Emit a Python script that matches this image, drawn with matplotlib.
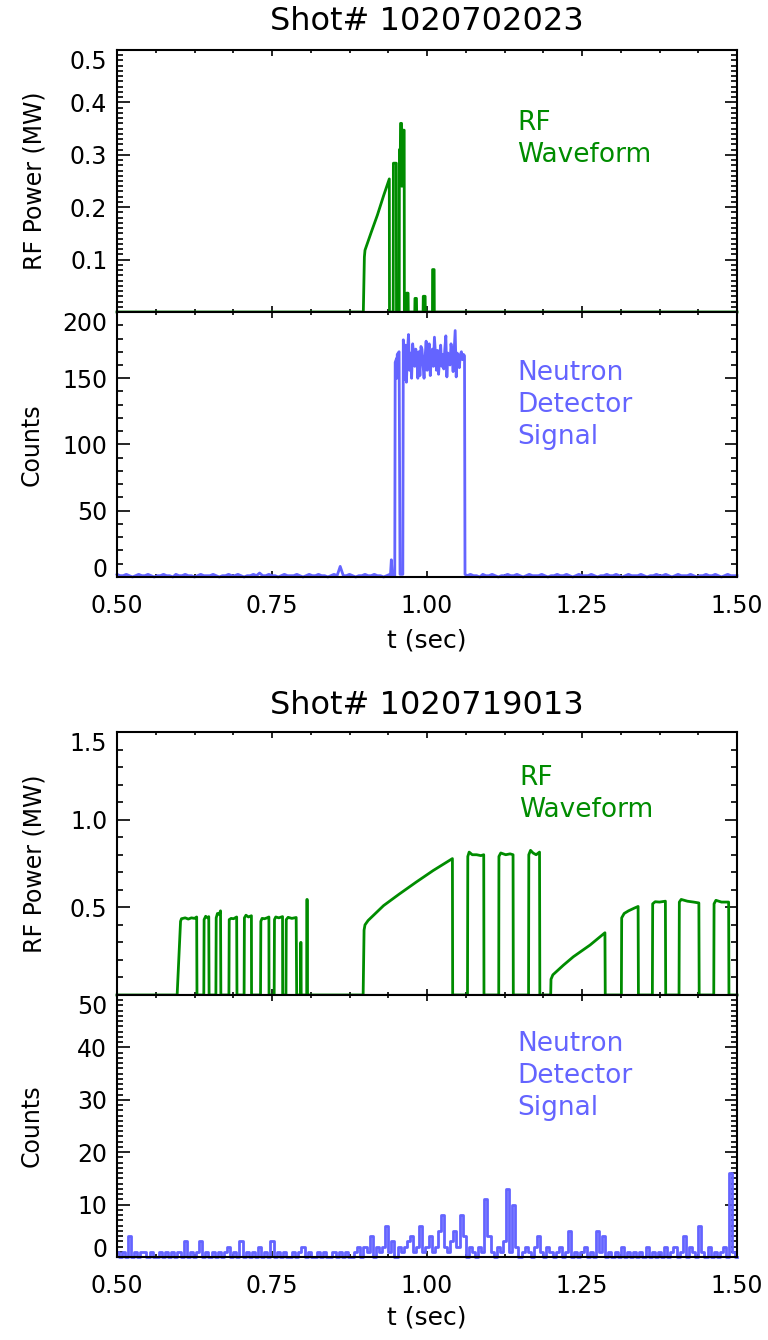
import numpy as np
import matplotlib.pyplot as plt
from matplotlib.ticker import MultipleLocator

plt.rcParams['font.family'] = 'DejaVu Sans'

GREEN = '#008c00'
BLUE = '#6464ff'

shots = ["1020702023", "1020719013"]

# shot 1020702023, RF power (MW)
rf1_t = [0.5, 0.8973, 0.899, 0.900, 0.91, 0.92, 0.93, 0.9392, 0.9395,
         0.9455, 0.9458, 0.9505, 0.9508, 0.9552, 0.9555, 0.957, 0.9573,
         0.959, 0.9593, 0.9598, 0.960, 0.9632, 0.9635, 0.9668, 0.967,
         0.9695, 0.9698, 0.9803, 0.9806, 0.983, 0.9833, 0.9937, 0.994,
         0.997, 0.9973, 1.0088, 1.009, 1.0115, 1.0118, 1.5]
rf1_p = [0, 0, 0.105, 0.118, 0.152, 0.185, 0.222, 0.254, 0,
         0, 0.284, 0.284, 0, 0, 0.31, 0.31, 0.36,
         0.36, 0.24, 0.24, 0.347, 0.347, 0, 0, 0.036,
         0.036, 0, 0, 0.026, 0.026, 0, 0, 0.03,
         0.03, 0, 0, 0.081, 0.081, 0, 0]

# shot 1020702023, neutron counts
n1_pre = [2, 1, 1, 2, 1, 0, 1, 2, 1, 1, 2, 1, 0, 1, 1, 2, 1, 1, 0, 2,
          1, 1, 2, 1, 1, 0, 1, 2, 1, 1, 1, 2, 1, 0, 1, 1, 2, 1, 1, 2,
          1, 0, 1, 1, 2, 1, 3, 1, 1, 2, 1, 1, 0, 1, 2, 1, 1, 1, 2, 1,
          0, 1, 2, 1, 1, 2, 1, 1, 0, 1, 2, 1, 8, 1, 1, 2, 1, 0, 1, 1,
          2, 1, 1, 2, 1, 1, 0, 1, 2]
n1_burst_t = [0.941, 0.9425, 0.944, 0.948, 0.9487, 0.951, 0.9515, 0.952,
              0.955, 0.9565, 0.961]
n1_burst = [1, 13, 1, 1, 162, 165, 150, 168, 170, 2, 2]
n1_plateau = [179, 149, 175, 147, 170, 183, 156, 169, 150, 176, 168, 159,
              172, 166, 150, 170, 152, 174, 172, 160, 150, 166, 178, 156,
              169, 176, 152, 166, 172, 159, 181, 169, 156, 171, 153, 166,
              175, 159, 168, 157, 172, 182, 151, 169, 166, 160, 176, 168,
              155, 171, 186, 151, 169, 166, 158, 168, 170, 164, 168, 167]
n1_post = [1, 2, 1, 1, 0, 2, 1, 1, 2, 1, 0, 1, 1, 2, 1, 1, 2, 1, 0, 1,
           2, 1, 1, 1, 2, 1, 0, 1, 1, 2, 1, 1, 2, 1, 0, 1, 2, 1, 1, 1,
           2, 1, 0, 1, 1, 2, 1, 1, 2, 1, 0, 1, 2, 1, 1, 1, 2, 1, 0, 1,
           1, 2, 1, 1, 2, 1, 0, 1, 2, 1, 1, 1, 2, 1, 0, 1, 1, 2, 1, 1,
           2, 1, 0, 1, 2, 1, 1, 1]

# shot 1020719013, RF power (MW)
rf2_t = [0.5,
         0.597, 0.6025, 0.604, 0.61, 0.615, 0.62, 0.625, 0.6285, 0.629,
         0.640, 0.6405, 0.643, 0.646, 0.648, 0.6485,
         0.6595, 0.660, 0.662, 0.665, 0.667, 0.6675,
         0.6805, 0.681, 0.684, 0.688, 0.693, 0.6935,
         0.705, 0.7055, 0.708, 0.712, 0.7168, 0.717,
         0.7315, 0.732, 0.734, 0.738, 0.742, 0.745, 0.7452,
         0.7535, 0.754, 0.756, 0.761, 0.767, 0.7672,
         0.7725, 0.773, 0.776, 0.782, 0.789, 0.7898,
         0.7960, 0.7963, 0.7968, 0.7971,
         0.8060, 0.8063, 0.8068, 0.8071,
         0.897, 0.8985, 0.900, 0.905, 0.93, 0.955, 0.983, 1.01, 1.041, 1.0414,
         1.0653, 1.0658, 1.068, 1.073, 1.08, 1.087, 1.0915, 1.0919,
         1.1157, 1.116, 1.119, 1.127, 1.134, 1.1388, 1.1392,
         1.1638, 1.1642, 1.167, 1.171, 1.176, 1.1815, 1.182,
         1.1995, 1.2, 1.203, 1.22, 1.236, 1.263, 1.287, 1.2875,
         1.3135, 1.314, 1.318, 1.325, 1.334, 1.3405, 1.341,
         1.3635, 1.364, 1.368, 1.375, 1.3845, 1.385,
         1.4065, 1.407, 1.41, 1.42, 1.43, 1.4385, 1.439,
         1.4625, 1.463, 1.466, 1.475, 1.4865, 1.487,
         1.5]
rf2_p = [0,
         0, 0.42, 0.435, 0.44, 0.433, 0.44, 0.437, 0.445, 0,
         0, 0.43, 0.449, 0.44, 0.447, 0,
         0, 0.44, 0.465, 0.46, 0.48, 0,
         0, 0.43, 0.437, 0.435, 0.445, 0,
         0, 0.44, 0.455, 0.445, 0.452, 0,
         0, 0.42, 0.437, 0.435, 0.44, 0.445, 0,
         0, 0.43, 0.445, 0.44, 0.447, 0,
         0, 0.43, 0.443, 0.437, 0.442, 0,
         0, 0.30, 0.30, 0,
         0, 0.545, 0.545, 0,
         0, 0.37, 0.40, 0.425, 0.51, 0.575, 0.645, 0.71, 0.778, 0,
         0, 0.79, 0.815, 0.80, 0.80, 0.795, 0.80, 0,
         0, 0.79, 0.81, 0.80, 0.805, 0.80, 0,
         0, 0.80, 0.825, 0.81, 0.80, 0.815, 0,
         0, 0.09, 0.115, 0.17, 0.218, 0.285, 0.355, 0,
         0, 0.44, 0.465, 0.48, 0.495, 0.505, 0,
         0, 0.52, 0.532, 0.53, 0.535, 0,
         0, 0.53, 0.545, 0.535, 0.53, 0.525, 0,
         0, 0.52, 0.54, 0.53, 0.53, 0,
         0]

# shot 1020719013, neutron counts (one value every 5 ms from 0.5 s)
n2_counts = [1, 0, 1, 0, 4, 0, 1, 0, 1, 1, 0, 1, 0, 0, 1, 0, 1, 0, 1, 0,
             1, 0, 3, 0, 1, 0, 1, 3, 0, 1, 0, 1, 0, 1, 0, 1, 2, 0, 1, 0,
             3, 0, 1, 0, 1, 0, 2, 0, 1, 0, 3, 0, 1, 0, 1, 0, 0, 1, 0, 1,
             2, 0, 1, 0, 0, 1, 0, 1, 0, 0, 1, 0, 1, 0, 1, 0, 0, 1, 2, 0,
             2, 1, 4, 0, 2, 1, 2, 6, 1, 3, 0, 2, 1, 2, 3, 4, 1, 2, 6, 1,
             2, 4, 1, 2, 5, 8, 2, 1, 3, 5, 2, 8, 4, 0, 2, 1, 0, 2, 1, 11,
             4, 1, 0, 2, 1, 3, 13, 1, 10, 2, 0, 1, 2, 1, 0, 2, 4, 1, 0, 2,
             1, 0, 1, 2, 0, 1, 5, 0, 1, 0, 1, 2, 0, 1, 0, 5, 1, 4, 0, 1,
             0, 1, 0, 2, 0, 1, 0, 1, 0, 1, 0, 2, 0, 1, 0, 1, 0, 2, 0, 1,
             2, 0, 1, 4, 0, 2, 1, 0, 6, 1, 0, 2, 0, 1, 0, 1, 2, 0, 16, 1,
             0]

W, H = 768, 1340
fig = plt.figure(figsize=(W / 100, H / 100), dpi=100)


def panel(top, bottom):
    return fig.add_axes([117 / W, 1 - bottom / H, 620 / W, (bottom - top) / H])


def style(ax, ylim, yticks, ymajor_fmt, yminor, xlabels):
    ax.set_xlim(0.5, 1.5)
    ax.set_ylim(*ylim)
    ax.set_xticks([0.5, 0.75, 1.0, 1.25, 1.5])
    ax.xaxis.set_minor_locator(MultipleLocator(0.0625))
    ax.set_yticks(yticks)
    ax.yaxis.set_minor_locator(MultipleLocator(yminor))
    ax.set_yticklabels([ymajor_fmt.format(v) for v in yticks])
    if xlabels:
        ax.set_xticklabels(["0.50", "0.75", "1.00", "1.25", "1.50"])
    else:
        ax.set_xticklabels([])
    ax.tick_params(which='both', direction='in', top=True, right=True,
                   width=1.2, labelsize=17, colors='black')
    ax.tick_params(axis='x', which='major', length=4.5, pad=12)
    ax.tick_params(axis='x', which='minor', length=2.5)
    ax.tick_params(axis='y', which='major', length=9, pad=7)
    ax.tick_params(axis='y', which='minor', length=4.5)
    for s in ax.spines.values():
        s.set_linewidth(1.5)
    labs = ax.get_yticklabels()
    if yticks[-1] == ylim[1]:
        labs[-1].set_va('top')
    if yticks[0] == ylim[0]:
        labs[0].set_va('baseline')


def ftext(x, y, s, **kw):
    fig.text(x / W, 1 - y / H, s, **kw)


# ---- shot 1 ----
ax1 = panel(50, 312)
ax1.plot(rf1_t, rf1_p, color=GREEN, lw=2.0, clip_on=False)
style(ax1, (0, 0.5), [0.1, 0.2, 0.3, 0.4, 0.5], "{:.1f}", 0.01, False)
ax1.set_ylabel("RF Power (MW)", fontsize=17)
ax1.yaxis.set_label_coords(-0.113, 0.5)

ax2 = panel(312, 577)
t_pre = 0.5 + 0.005 * np.arange(len(n1_pre))
t_pl = np.linspace(0.9618, 1.0605, len(n1_plateau))
t_post = 1.065 + 0.005 * np.arange(len(n1_post))
n1_t = np.concatenate([t_pre, n1_burst_t, t_pl, [1.0613], t_post])
n1_c = np.concatenate([n1_pre, n1_burst, n1_plateau, [2], n1_post])
ax2.plot(n1_t, n1_c, color=BLUE, lw=2.0, clip_on=False)
style(ax2, (0, 200), [0, 50, 100, 150, 200], "{:d}", 10, True)
ax2.set_ylabel("Counts", fontsize=17)
ax2.yaxis.set_label_coords(-0.118, 0.5)

# ---- shot 2 ----
ax3 = panel(732, 995)
ax3.plot(rf2_t, rf2_p, color=GREEN, lw=2.0, clip_on=False)
style(ax3, (0, 1.5), [0.5, 1.0, 1.5], "{:.1f}", 0.1, False)
ax3.set_ylabel("RF Power (MW)", fontsize=17)
ax3.yaxis.set_label_coords(-0.113, 0.5)

ax4 = panel(995, 1257)
n2_t = np.linspace(0.5, 1.5, len(n2_counts))
ax4.plot(n2_t, n2_counts, color=BLUE, lw=2.0, drawstyle='steps-mid',
         clip_on=False)
style(ax4, (0, 50), [0, 10, 20, 30, 40, 50], "{:d}", 1, True)
ax4.set_ylabel("Counts", fontsize=17)
ax4.yaxis.set_label_coords(-0.118, 0.5)

# titles and labels
ftext(427, 22, "Shot# " + shots[0], fontsize=23, ha='center', va='center')
ftext(427, 705, "Shot# " + shots[1], fontsize=23, ha='center', va='center')
ftext(427, 640, "t (sec)", fontsize=18, ha='center', va='center')
ftext(427, 1318, "t (sec)", fontsize=18, ha='center', va='center')

ftext(517, 139, "RF\nWaveform", fontsize=19, color=GREEN,
      ha='left', va='center', linespacing=1.3)
ftext(517, 405, "Neutron\nDetector\nSignal", fontsize=19, color=BLUE,
      ha='left', va='center', linespacing=1.3)
ftext(519, 794, "RF\nWaveform", fontsize=19, color=GREEN,
      ha='left', va='center', linespacing=1.3)
ftext(517, 1076, "Neutron\nDetector\nSignal", fontsize=19, color=BLUE,
      ha='left', va='center', linespacing=1.3)

fig.savefig("out.png", dpi=100)
